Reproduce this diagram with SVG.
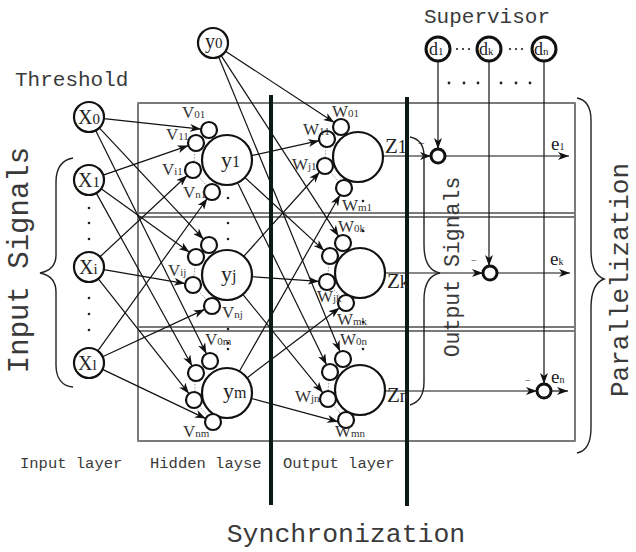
<svg xmlns="http://www.w3.org/2000/svg" width="636" height="552" viewBox="0 0 636 552">
  <style>
    .box { fill: none; stroke: #333; stroke-width: 1.3; }
    .edge { stroke: #7a7a7a; stroke-width: 2; }
    .bar { fill: #0d1a14; }
    .c { stroke: #111; stroke-width: 1.2; fill: none; marker-end: url(#ah); }
    .br { stroke: #222; stroke-width: 1.4; fill: none; }
    .nd { fill: #fff; stroke: #111; stroke-width: 2.2; }
    .tk { fill: #fff; stroke: #111; stroke-width: 3; }
    .dot { fill: #222; }
    .dl { stroke: #999; stroke-width: 1; stroke-dasharray: 1.5 1.5; }
    .mono { font-family: "Liberation Mono", "DejaVu Sans Mono", monospace; fill: #3a3a3a; }
    .serif { font-family: "Liberation Serif", "DejaVu Serif", serif; fill: #222; }
    .wl { font-size: 17px; fill: #333; }
    .sub { font-size: 11px; }
  </style>
  <defs>
    <marker id="ah" markerWidth="11" markerHeight="8" refX="11" refY="4" orient="auto" markerUnits="userSpaceOnUse">
      <path d="M0,0 L11,4 L0,8 L3,4 z" fill="#111"/>
    </marker>
  </defs>

  <rect width="636" height="552" fill="#fff"/>

  <!-- three parallel network copies -->
  <g id="frames">
    <rect class="box" x="138" y="103" width="437" height="110"/>
    <rect class="box" x="138" y="217" width="437" height="110"/>
    <rect class="box" x="138" y="331" width="437" height="110"/>
    <line class="edge" x1="138" y1="103" x2="138" y2="441"/>
    <line class="edge" x1="575" y1="103" x2="575" y2="441"/>
  </g>

  <g id="connectors">
    <!-- input layer to hidden weights -->
    <line class="c" x1="103.9" y1="118.6" x2="201.0" y2="129.1"/>
    <line class="c" x1="99.3" y1="127.9" x2="203.5" y2="239.2"/>
    <line class="c" x1="95.7" y1="130.4" x2="206.4" y2="353.8"/>
    <line class="c" x1="103.2" y1="175.1" x2="188.4" y2="145.6"/>
    <line class="c" x1="101.2" y1="188.8" x2="189.5" y2="252.3"/>
    <line class="c" x1="96.3" y1="193.1" x2="192.1" y2="366.0"/>
    <line class="c" x1="100.0" y1="256.8" x2="187.2" y2="175.5"/>
    <line class="c" x1="103.8" y1="269.6" x2="185.1" y2="283.6"/>
    <line class="c" x1="98.3" y1="278.8" x2="189.0" y2="393.7"/>
    <line class="c" x1="97.8" y1="350.8" x2="207.3" y2="198.5"/>
    <line class="c" x1="102.6" y1="356.7" x2="204.7" y2="309.4"/>
    <line class="c" x1="102.5" y1="369.4" x2="205.8" y2="418.6"/>
    <!-- hidden layer to output weights -->
    <line class="c" x1="225.5" y1="51.2" x2="334.3" y2="122.6"/>
    <line class="c" x1="221.2" y1="55.6" x2="338.6" y2="236.3"/>
    <line class="c" x1="218.7" y1="56.9" x2="340.0" y2="351.6"/>
    <line class="c" x1="251.4" y1="155.6" x2="319.2" y2="140.7"/>
    <line class="c" x1="245.4" y1="178.0" x2="324.1" y2="250.6"/>
    <line class="c" x1="238.0" y1="183.5" x2="326.5" y2="364.8"/>
    <line class="c" x1="243.7" y1="256.4" x2="319.7" y2="172.0"/>
    <line class="c" x1="252.0" y1="276.7" x2="319.0" y2="281.4"/>
    <line class="c" x1="242.8" y1="294.4" x2="322.9" y2="392.8"/>
    <line class="c" x1="239.4" y1="371.3" x2="340.0" y2="195.0"/>
    <line class="c" x1="247.0" y1="377.9" x2="339.6" y2="307.8"/>
    <line class="c" x1="251.4" y1="398.5" x2="338.2" y2="421.8"/>
    <!-- outputs to comparators -->
    <line class="c" x1="383" y1="156" x2="431" y2="156"/>
    <line class="c" x1="385" y1="273" x2="483" y2="273"/>
    <line class="c" x1="385" y1="391" x2="537" y2="391"/>
    <!-- supervisor targets -->
    <line class="c" x1="438" y1="61" x2="438" y2="149"/>
    <line class="c" x1="489" y1="61" x2="489" y2="266"/>
    <line class="c" x1="544" y1="61" x2="544" y2="384"/>
    <!-- errors -->
    <line class="c" x1="445" y1="156" x2="569" y2="156"/>
    <line class="c" x1="497" y1="273" x2="570" y2="273"/>
    <line class="c" x1="551" y1="391" x2="568" y2="391"/>
    <!-- braces -->
    <path class="br" d="M73,158 C62,160 56,168 56,182 L56,255 C56,266 50,271 40,273 C50,275 56,281 56,292 L56,365 C56,378 62,386 73,387"/>
    <path class="br" d="M410,137 C420,139 424,146 424,156 L424,245 C424,262 430,271 440,273 C430,275 424,284 424,300 L424,382 C424,394 420,402 410,405"/>
    <path class="br" d="M577,98 C587,100 591,108 591,120 L591,250 C591,268 596,276 604,279 C596,282 591,290 591,308 L591,428 C591,442 587,451 577,453"/>
  </g>

  <!-- synchronization barriers -->
  <g id="barriers">
    <rect class="bar" x="269" y="95" width="4" height="410"/>
    <rect class="bar" x="405" y="97" width="4" height="409"/>
  </g>

  <!-- input layer -->
  <g id="x0">
    <circle class="nd" cx="89" cy="117" r="15"/>
    <text class="serif" x="78" y="124" font-size="20">X<tspan font-size="15">0</tspan></text>
  </g>
  <g id="x1">
    <circle class="nd" cx="89" cy="180" r="15"/>
    <text class="serif" x="78" y="187" font-size="20">X<tspan font-size="15">1</tspan></text>
  </g>
  <g id="xi">
    <circle class="nd" cx="89" cy="267" r="15"/>
    <text class="serif" x="79" y="274" font-size="20">X<tspan font-size="15">i</tspan></text>
  </g>
  <g id="xl">
    <circle class="nd" cx="89" cy="363" r="15"/>
    <text class="serif" x="78" y="370" font-size="20">X<tspan font-size="15">l</tspan></text>
  </g>
  <g id="input-dots">
    <circle class="dot" cx="89" cy="208" r="1.3"/>
    <circle class="dot" cx="89" cy="223" r="1.3"/>
    <circle class="dot" cx="89" cy="239" r="1.3"/>
    <circle class="dot" cx="89" cy="298" r="1.3"/>
    <circle class="dot" cx="89" cy="314" r="1.3"/>
    <circle class="dot" cx="89" cy="330" r="1.3"/>
  </g>

  <!-- hidden layer -->
  <g id="y0">
    <circle class="nd" cx="213" cy="43" r="15"/>
    <text class="serif" x="205" y="48" font-size="20">y<tspan font-size="15">0</tspan></text>
  </g>
  <g id="y1">
    <line class="dl" x1="195" y1="151" x2="194" y2="162"/>
    <line class="dl" x1="198" y1="176" x2="207" y2="186"/>
    <circle class="nd" cx="227" cy="160" r="25"/>
    <circle class="nd" cx="209" cy="130" r="8"/>
    <circle class="nd" cx="196" cy="143" r="8"/>
    <circle class="nd" cx="193" cy="170" r="8"/>
    <circle class="nd" cx="212" cy="192" r="8"/>
    <text class="serif" x="221" y="167" font-size="22">y<tspan font-size="16">1</tspan></text>
    <text class="serif wl" x="182" y="118">V<tspan class="sub">01</tspan></text>
    <text class="serif wl" x="166" y="140">V<tspan class="sub">11</tspan></text>
    <text class="serif wl" x="162" y="175">V<tspan class="sub">i1</tspan></text>
    <text class="serif wl" x="183" y="198">V<tspan class="sub">n1</tspan></text>
  </g>
  <g id="yj">
    <line class="dl" x1="195" y1="265" x2="194" y2="277"/>
    <line class="dl" x1="198" y1="291" x2="207" y2="300"/>
    <circle class="nd" cx="227" cy="275" r="25"/>
    <circle class="nd" cx="209" cy="245" r="8"/>
    <circle class="nd" cx="196" cy="257" r="8"/>
    <circle class="nd" cx="193" cy="285" r="8"/>
    <circle class="nd" cx="212" cy="306" r="8"/>
    <text class="serif" x="221" y="281" font-size="22">y<tspan font-size="16">j</tspan></text>
    <text class="serif wl" x="168" y="276">V<tspan class="sub">ij</tspan></text>
    <text class="serif wl" x="222" y="318">V<tspan class="sub">nj</tspan></text>
  </g>
  <g id="ym">
    <line class="dl" x1="195" y1="381" x2="195" y2="392"/>
    <line class="dl" x1="199" y1="406" x2="208" y2="416"/>
    <circle class="nd" cx="227" cy="393" r="25"/>
    <circle class="nd" cx="210" cy="361" r="8"/>
    <circle class="nd" cx="196" cy="373" r="8"/>
    <circle class="nd" cx="194" cy="400" r="8"/>
    <circle class="nd" cx="213" cy="422" r="8"/>
    <text class="serif" x="223" y="398" font-size="22">y<tspan font-size="16">m</tspan></text>
    <text class="serif wl" x="205" y="345">V<tspan class="sub">0m</tspan></text>
    <text class="serif wl" x="183" y="437">V<tspan class="sub">nm</tspan></text>
  </g>
  <g id="hidden-dots">
    <circle class="dot" cx="228" cy="198" r="1.3"/>
    <circle class="dot" cx="228" cy="223" r="1.3"/>
    <circle class="dot" cx="228" cy="239" r="1.3"/>
    <circle class="dot" cx="228" cy="329" r="1.3"/>
    <circle class="dot" cx="228" cy="343" r="1.3"/>
    <circle class="dot" cx="228" cy="349" r="1.3"/>
  </g>

  <!-- output layer -->
  <g id="z1">
    <line class="dl" x1="326" y1="147" x2="325" y2="158"/>
    <line class="dl" x1="330" y1="172" x2="339" y2="182"/>
    <circle class="nd" cx="358" cy="157" r="25"/>
    <circle class="nd" cx="341" cy="127" r="8"/>
    <circle class="nd" cx="327" cy="139" r="8"/>
    <circle class="nd" cx="325" cy="166" r="8"/>
    <circle class="nd" cx="344" cy="188" r="8"/>
    <text class="serif" x="385" y="153" font-size="21">Z<tspan font-size="18">1</tspan></text>
    <text class="serif wl" x="332" y="117">W<tspan class="sub">01</tspan></text>
    <text class="serif wl" x="303" y="135">W<tspan class="sub">11</tspan></text>
    <text class="serif wl" x="292" y="170">W<tspan class="sub">j1</tspan></text>
    <text class="serif wl" x="342" y="211">W<tspan class="sub">m1</tspan></text>
  </g>
  <g id="zk">
    <line class="dl" x1="329" y1="264" x2="328" y2="274"/>
    <line class="dl" x1="332" y1="288" x2="341" y2="297"/>
    <circle class="nd" cx="360" cy="273" r="25"/>
    <circle class="nd" cx="343" cy="243" r="8"/>
    <circle class="nd" cx="330" cy="256" r="8"/>
    <circle class="nd" cx="327" cy="282" r="8"/>
    <circle class="nd" cx="346" cy="303" r="8"/>
    <text class="serif" x="387" y="288" font-size="21">Z<tspan font-size="18">k</tspan></text>
    <text class="serif wl" x="338" y="232">W<tspan class="sub">0k</tspan></text>
    <text class="serif wl" x="317" y="302">W<tspan class="sub">jk</tspan></text>
    <text class="serif wl" x="337" y="325">W<tspan class="sub">mk</tspan></text>
  </g>
  <g id="zn">
    <line class="dl" x1="329" y1="380" x2="328" y2="391"/>
    <line class="dl" x1="333" y1="405" x2="341" y2="414"/>
    <circle class="nd" cx="360" cy="390" r="25"/>
    <circle class="nd" cx="343" cy="359" r="8"/>
    <circle class="nd" cx="330" cy="372" r="8"/>
    <circle class="nd" cx="328" cy="399" r="8"/>
    <circle class="nd" cx="346" cy="420" r="8"/>
    <text class="serif" x="387" y="402" font-size="21">Z<tspan font-size="18">n</tspan></text>
    <text class="serif wl" x="340" y="345">W<tspan class="sub">0n</tspan></text>
    <text class="serif wl" x="295" y="402">W<tspan class="sub">jn</tspan></text>
    <text class="serif wl" x="335" y="437">W<tspan class="sub">mn</tspan></text>
  </g>
  <g id="output-dots">
    <circle class="dot" cx="363" cy="201" r="1.3"/>
    <circle class="dot" cx="363" cy="231" r="1.3"/>
    <circle class="dot" cx="363" cy="322" r="1.3"/>
    <circle class="dot" cx="363" cy="349" r="1.3"/>
  </g>

  <!-- supervisor targets -->
  <g id="d1">
    <circle class="tk" cx="438" cy="49" r="12"/>
    <text class="serif" x="429" y="55" font-size="18">d<tspan font-size="11">1</tspan></text>
  </g>
  <g id="dk">
    <circle class="tk" cx="489" cy="49" r="12"/>
    <text class="serif" x="479" y="55" font-size="18">d<tspan font-size="11">k</tspan></text>
  </g>
  <g id="dn">
    <circle class="tk" cx="544" cy="49" r="12"/>
    <text class="serif" x="534" y="55" font-size="18">d<tspan font-size="11">n</tspan></text>
  </g>
  <g id="supervisor-dots">
    <circle class="dot" cx="457" cy="49" r="1.1"/>
    <circle class="dot" cx="463" cy="49" r="1.1"/>
    <circle class="dot" cx="469" cy="49" r="1.1"/>
    <circle class="dot" cx="510" cy="49" r="1.1"/>
    <circle class="dot" cx="516" cy="49" r="1.1"/>
    <circle class="dot" cx="522" cy="49" r="1.1"/>
    <circle class="dot" cx="449" cy="83" r="1.4"/>
    <circle class="dot" cx="464" cy="83" r="1.4"/>
    <circle class="dot" cx="478" cy="83" r="1.4"/>
    <circle class="dot" cx="501" cy="83" r="1.4"/>
    <circle class="dot" cx="516" cy="83" r="1.4"/>
    <circle class="dot" cx="530" cy="83" r="1.4"/>
  </g>

  <!-- error comparators -->
  <g id="e1">
    <circle class="tk" cx="438" cy="156" r="7"/>
    <text class="serif" x="418" y="147" font-size="12">−</text>
    <text class="serif" x="551" y="150" font-size="19">e<tspan font-size="10">1</tspan></text>
  </g>
  <g id="ek">
    <circle class="tk" cx="490" cy="273" r="7"/>
    <text class="serif" x="471" y="264" font-size="10">−</text>
    <text class="serif" x="550" y="265" font-size="19">e<tspan font-size="10">k</tspan></text>
  </g>
  <g id="en">
    <circle class="tk" cx="544" cy="391" r="7"/>
    <text class="serif" x="525" y="384" font-size="10">−</text>
    <text class="serif" x="551" y="383" font-size="19">e<tspan font-size="10">n</tspan></text>
  </g>

  <!-- captions -->
  <g id="captions">
    <text class="mono" x="15" y="86" font-size="21">Threshold</text>
    <text class="mono" x="424" y="23" font-size="21">Supervisor</text>
    <text class="mono" x="20" y="468" font-size="15.5">Input layer</text>
    <text class="mono" x="150" y="468" font-size="15.5">Hidden layse</text>
    <text class="mono" x="283" y="468" font-size="15.5">Output layer</text>
    <text class="mono" x="346" y="542" font-size="26.5" text-anchor="middle">Synchronization</text>
    <text class="mono" font-size="29" text-anchor="middle" transform="translate(28,260) rotate(-90)">Input Signals</text>
    <text class="mono" font-size="21.5" text-anchor="middle" transform="translate(459,267) rotate(-90)">Output Signals</text>
    <text class="mono" font-size="26" text-anchor="middle" transform="translate(628,280) rotate(-90)">Parallelization</text>
  </g>
</svg>
